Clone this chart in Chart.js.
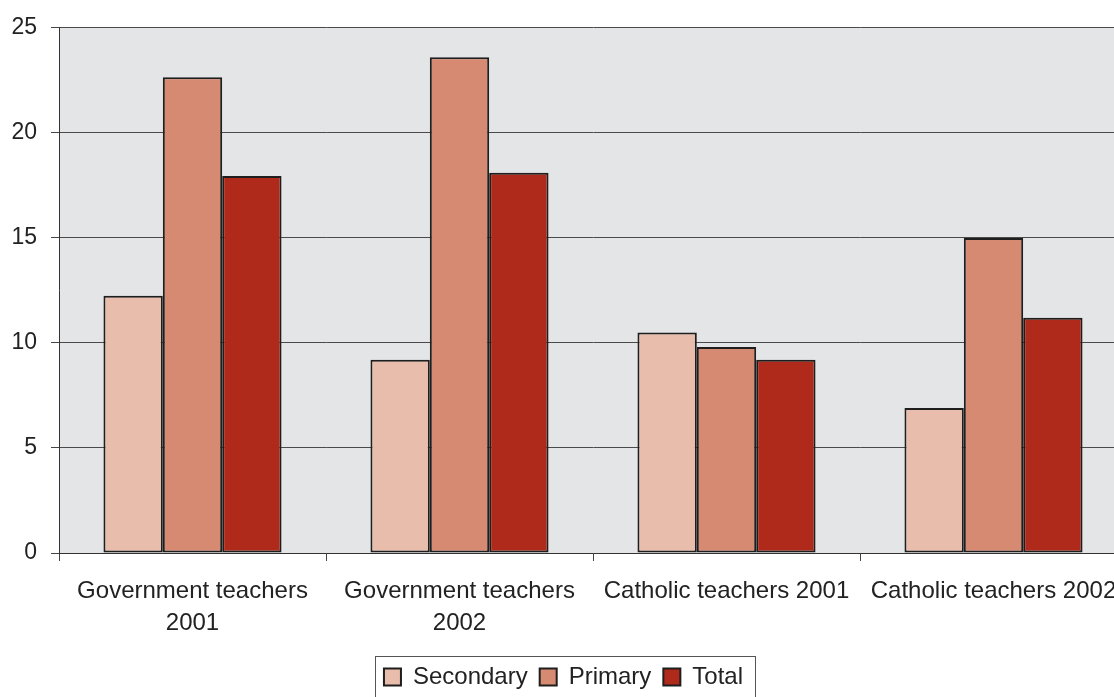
<!DOCTYPE html>
<html>
<head>
<meta charset="utf-8">
<script src="https://cdn.jsdelivr.net/npm/chart.js@4.4.1/dist/chart.umd.min.js"></script>
<style>
  html, body { margin: 0; padding: 0; background: #fff; overflow: hidden; }
  #wrap { position: relative; width: 1140px; height: 699px; }
</style>
</head>
<body>
<div id="wrap"><canvas id="teachersChart"></canvas></div>
<script>
// Categorías y series
const categories = [
    ['Government teachers', '2001'],
    ['Government teachers', '2002'],
    'Catholic teachers 2001',
    'Catholic teachers 2002'
];
const secondaryValues = [12.25, 9.2, 10.5, 6.9];
const primaryValues = [22.65, 23.6, 9.8, 15.0];
const totalValues = [17.95, 18.1, 9.2, 11.2];
const yTicks = [0, 5, 10, 15, 20, 25];

const textColor = '#222';
const fontFamily = '"Liberation Sans", Arial, sans-serif';

// Fondo gris del área de trazado
const plotBackground = {
    id: 'plotBackground',
    beforeDraw(chart) {
        const { ctx, chartArea } = chart;
        ctx.save();
        ctx.fillStyle = '#e4e5e7';
        ctx.fillRect(chartArea.left, chartArea.top, chartArea.right - chartArea.left, chartArea.bottom - chartArea.top);
        ctx.restore();
    }
};

// Marco alrededor de la leyenda
const legendFrame = {
    id: 'legendFrame',
    afterDraw(chart) {
        const boxes = chart.legend.legendHitBoxes;
        if (!boxes || !boxes.length) return;
        const first = boxes[0];
        const last = boxes[boxes.length - 1];
        const left = first.left - 9;
        const right = last.left + last.width + 12;
        const top = first.top - 9;
        const ctx = chart.ctx;
        ctx.save();
        ctx.strokeStyle = '#555';
        ctx.lineWidth = 1;
        ctx.strokeRect(Math.round(left) + 0.5, Math.round(top) + 0.5, Math.round(right - left), 60);
        ctx.restore();
    }
};

const ctx = document.getElementById('teachersChart').getContext('2d');
const teachersChart = new Chart(ctx, {
    type: 'bar',
    data: {
        labels: categories,
        datasets: [
            { label: 'Secondary', data: secondaryValues, backgroundColor: '#e8bdac' },
            { label: 'Primary', data: primaryValues, backgroundColor: '#d68a71' },
            { label: 'Total', data: totalValues, backgroundColor: '#b02a1b' }
        ].map(ds => Object.assign(ds, {
            borderColor: '#1e1e1e',
            borderWidth: 2,
            borderSkipped: false,
            categoryPercentage: 0.667,
            barPercentage: 1.0
        }))
    },
    options: {
        responsive: true,
        maintainAspectRatio: false,
        animation: false,
        layout: { padding: { top: 27, right: 13, left: 0, bottom: 0 } },
        plugins: {
            legend: {
                position: 'bottom',
                labels: {
                    color: textColor,
                    font: { family: fontFamily, size: 24 },
                    boxWidth: 17,
                    boxHeight: 17,
                    padding: 12
                }
            },
            tooltip: { enabled: false }
        },
        scales: {
            x: {
                offset: true,
                grid: {
                    offset: true,
                    drawOnChartArea: false,
                    drawTicks: true,
                    tickLength: 8,
                    tickColor: '#444'
                },
                border: { display: true, color: '#333', width: 1 },
                ticks: {
                    color: textColor,
                    padding: 14,
                    maxRotation: 0,
                    autoSkip: false,
                    font: { family: fontFamily, size: 24, lineHeight: 1.35 }
                },
                afterFit(scale) { scale.height = 100; }
            },
            y: {
                min: 0,
                max: 25,
                afterBuildTicks(scale) { scale.ticks = yTicks.map(v => ({ value: v })); },
                grid: {
                    color: '#4a4a4a',
                    lineWidth: 1,
                    drawTicks: true,
                    tickLength: 8,
                    tickColor: '#444'
                },
                border: { display: true, color: '#333', width: 1 },
                ticks: {
                    color: textColor,
                    padding: 14,
                    font: { family: fontFamily, size: 23 }
                },
                afterFit(scale) { scale.width = 59; }
            }
        }
    },
    plugins: [plotBackground, legendFrame]
});
</script>
</body>
</html>
